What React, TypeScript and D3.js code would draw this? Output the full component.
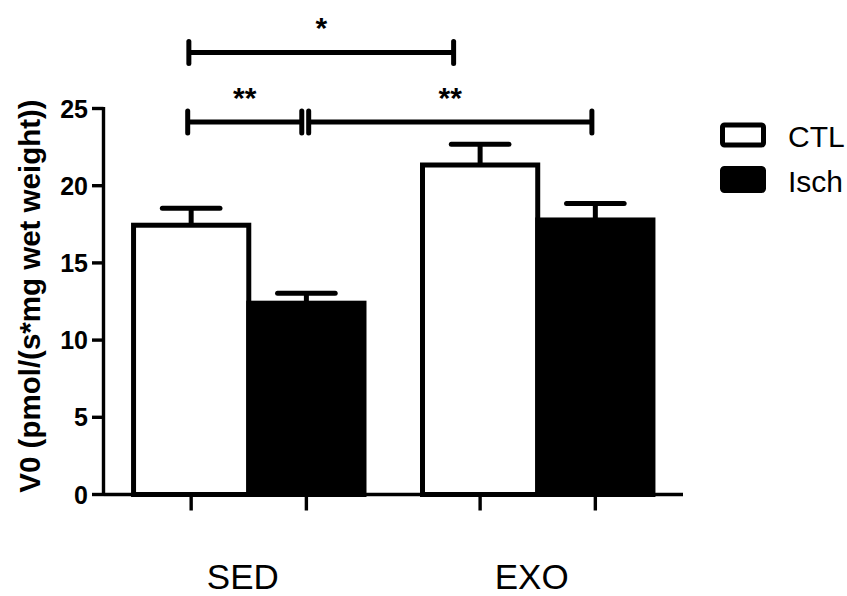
import React from "react";
import * as d3 from "d3";

const categories = ["SED", "EXO"];
const seriesNames = ["CTL", "Isch"];
const ctlMeans = [17.44, 21.34];
const ctlErrors = [1.1, 1.35];
const ischMeans = [12.39, 17.78];
const ischErrors = [0.65, 1.07];
const yTicks = [0, 5, 10, 15, 20, 25];
const yTitle = "V0 (pmol/(s*mg wet weight))";

// significance brackets: ends are (group, series, shift in bar widths), level in data units
const bracketFrom = [
  { g: 0, s: 0, shift: -0.02 },
  { g: 0, s: 0, shift: -0.03 },
  { g: 0, s: 1, shift: 0.02 },
];
const bracketTo = [
  { g: 1, s: 0, shift: -0.23 },
  { g: 0, s: 1, shift: -0.04 },
  { g: 1, s: 1, shift: -0.03 },
];
const bracketLevels = [28.63, 24.13, 24.13];
const bracketLabels = ["*", "**", "**"];

const W = 847;
const H = 596;

export default function App() {
  const x0 = d3.scaleBand<string>().domain(categories).range([103.5, 683]).paddingInner(0.2025).paddingOuter(0.104);
  const x1 = d3.scaleBand<string>().domain(seriesNames).range([0, x0.bandwidth()]).padding(0);
  const y = d3.scaleLinear().domain([0, 25]).range([494.5, 108.5]);
  const bw = x1.bandwidth();

  const means = [ctlMeans, ischMeans];
  const errs = [ctlErrors, ischErrors];
  const fills = ["#ffffff", "#000000"];

  const barCenter = (g: number, s: number) => (x0(categories[g]) as number) + (x1(seriesNames[s]) as number) + bw / 2;

  const font = "'Liberation Sans', Arial, Helvetica, sans-serif";
  const sw = 5;

  return (
    <svg width={W} height={H} style={{ position: "absolute", left: 0, top: 0, background: "#fff" }} fontFamily={font}>
      <rect x={0} y={0} width={W} height={H} fill="#fff" />
      {/* bars */}
      {seriesNames.map((sn, s) =>
        categories.map((c, g) => {
          const xl = (x0(c) as number) + (x1(sn) as number);
          const v = means[s][g];
          return (
            <rect key={sn + c} x={xl} y={y(v)} width={bw} height={y(0) - y(v)} fill={fills[s]} stroke="#000" strokeWidth={sw} />
          );
        })
      )}
      {/* error bars */}
      {seriesNames.map((sn, s) =>
        categories.map((c, g) => {
          const cx = barCenter(g, s);
          const v = means[s][g];
          const e = errs[s][g];
          return (
            <g key={"e" + sn + c} stroke="#000" strokeWidth={sw} strokeLinecap="round">
              <line x1={cx} x2={cx} y1={y(v)} y2={y(v + e)} strokeLinecap="butt" />
              <line x1={cx - bw * 0.25} x2={cx + bw * 0.25} y1={y(v + e)} y2={y(v + e)} />
            </g>
          );
        })
      )}
      {/* y axis */}
      <line x1={103.5} x2={103.5} y1={y(25) - 1.5} y2={y(0) + 1.5} stroke="#000" strokeWidth={3.4} />
      {yTicks.map((t) => (
        <g key={"yt" + t}>
          <line x1={92} x2={103.5} y1={y(t)} y2={y(t)} stroke="#000" strokeWidth={3.4} />
          <text x={88} y={y(t)} dy="0.36em" textAnchor="end" fontSize={25} fontWeight="bold" fill="#000">
            {t}
          </text>
        </g>
      ))}
      {/* x axis */}
      <line x1={103.5} x2={683} y1={y(0)} y2={y(0)} stroke="#000" strokeWidth={3.4} />
      {categories.map((c, g) =>
        seriesNames.map((sn, s) => (
          <line key={"xt" + c + sn} x1={barCenter(g, s)} x2={barCenter(g, s)} y1={y(0)} y2={y(0) + 16} stroke="#000" strokeWidth={3.4} />
        ))
      )}
      {categories.map((c) => (
        <text key={"xl" + c} x={(x0(c) as number) + x0.bandwidth() / 2 - 6} y={589} textAnchor="middle" fontSize={35} fill="#000">
          {c}
        </text>
      ))}
      {/* y title */}
      <text transform={`translate(40, 296) rotate(-90)`} textAnchor="middle" fontSize={29.5} fontWeight="bold" fill="#000">
        {yTitle}
      </text>
      {/* brackets */}
      {bracketLevels.map((lv, i) => {
        const a = bracketFrom[i];
        const b = bracketTo[i];
        const xa = barCenter(a.g, a.s) + a.shift * bw;
        const xb = barCenter(b.g, b.s) + b.shift * bw;
        const yy = y(lv);
        return (
          <g key={"br" + i}>
            <g stroke="#000" strokeWidth={sw} strokeLinecap="round">
              <line x1={xa} x2={xb} y1={yy} y2={yy} strokeLinecap="butt" />
              <line x1={xa} x2={xa} y1={yy - 11} y2={yy + 11} />
              <line x1={xb} x2={xb} y1={yy - 11} y2={yy + 11} />
            </g>
            <text x={(xa + xb) / 2} y={yy - 14} textAnchor="middle" fontSize={30} fontWeight="bold" fill="#000">
              {bracketLabels[i]}
            </text>
          </g>
        );
      })}
      {/* legend */}
      {seriesNames.map((sn, s) => (
        <g key={"lg" + sn}>
          <rect x={722.5} y={125 + s * 43.5} width={41} height={s === 0 ? 20 : 22} rx={2} fill={fills[s]} stroke="#000" strokeWidth={sw} />
          <text x={788} y={147 + s * 45} fontSize={30} fill="#000">
            {sn}
          </text>
        </g>
      ))}
    </svg>
  );
}
